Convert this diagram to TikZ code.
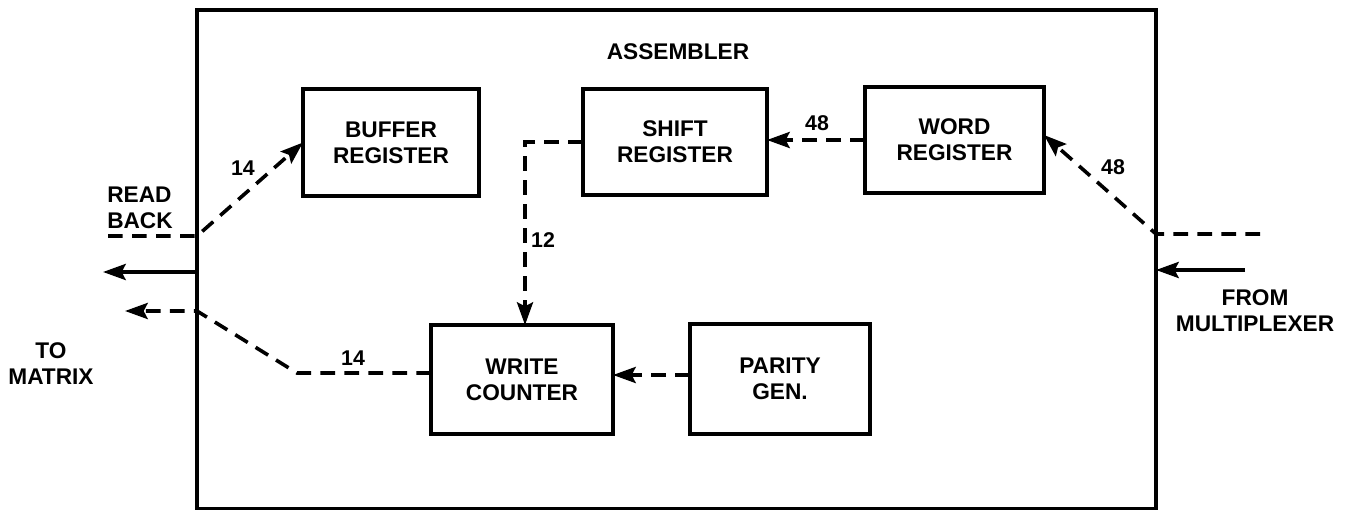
\documentclass[tikz,border=0pt]{standalone}
\usepackage{fontspec}
\setmainfont{Liberation Sans}
\usetikzlibrary{arrows.meta}
\newcommand\lblfont{\fontsize{17}{19.5}\selectfont\bfseries}
\newcommand\numfont{\fontsize{16}{18}\selectfont\bfseries}
\begin{document}
\begin{tikzpicture}[x=0.75pt,y=-0.75pt,
  blk/.style={draw, line width=3pt, inner sep=0pt, outer sep=0pt, align=center, font=\lblfont},
  txt/.style={font=\lblfont, inner sep=0pt},
  num/.style={font=\numfont, inner sep=0pt},
  bus/.style={line width=2.7pt, dash pattern=on 11pt off 7pt},
  wire/.style={line width=2.8pt},
  >={Stealth[length=17pt,width=12pt,inset=3pt]}]
\useasboundingbox (0,0) rectangle (1349,510);
\fill[white] (0,0) rectangle (1349,510);
% container
\node[draw, line width=3.2pt, inner sep=0pt, outer sep=0pt, minimum width=719.25pt, minimum height=374.25pt] (asm) at (676.5,259.5) {};
\node[txt] (title) at (678,52) {ASSEMBLER};
% blocks
\node[blk, minimum width=132pt, minimum height=80.25pt] (buffer) at (391,142.5) {BUFFER\\REGISTER};
\node[blk, minimum width=138pt, minimum height=79.5pt] (shift) at (675,142) {SHIFT\\REGISTER};
\node[blk, minimum width=134.25pt, minimum height=79.5pt] (word) at (954.5,140) {WORD\\REGISTER};
\node[blk, minimum width=136.5pt, minimum height=81.75pt] (write) at (522,379.5) {WRITE\\COUNTER};
\node[blk, minimum width=135pt, minimum height=82.5pt] (parity) at (780,379) {PARITY\\GEN.};
% outside labels
\node[txt, anchor=west, align=left] (rbl) at (107,208) {READ\\BACK};
\node[txt, align=center] (tml) at (51,364) {TO\\MATRIX};
\node[txt, align=center] (fml) at (1255,311) {FROM\\MULTIPLEXER};
% junction coordinates
\coordinate (rbIn) at (108,236);
\coordinate (rbJ) at (197,236);
\coordinate (outJ) at (197,272);
\coordinate (outTip) at (103,272);
\coordinate (wbJ) at (197,311);
\coordinate (wbTip) at (125,311);
\coordinate (wbBend) at (297,373);
\coordinate (rIn) at (1260,234);
\coordinate (rJ) at (1156,234);
\coordinate (mIn) at (1245,270);
\coordinate (mJ) at (1156,270);
% connectors
\draw[bus,->] (rbIn) -- (rbJ) -- (buffer.west);
\draw[wire,->] (outJ) -- (outTip);
\draw[bus,->] ([yshift=4.9pt]write.west) -- (wbBend) -- (wbJ) -- (wbTip);
\draw[bus,->] (rIn) -- (rJ) -- ([yshift=3.75pt]word.east);
\draw[wire,->] (mIn) -- (mJ);
\draw[bus,->] (word.west) -- (word.west -| shift.east);
\draw[bus,->] (shift.west) -| ([xshift=2.25pt]write.north);
\draw[bus,->] ([yshift=3pt]parity.west) -- ([yshift=3pt]parity.west -| write.east);
% bus widths
\node[num] (n14a) at (243,168) {14};
\node[num] (n14b) at (353,358) {14};
\node[num] (n48a) at (817,123) {48};
\node[num] (n48b) at (1113,167) {48};
\node[num] (n12) at (543,240) {12};
\end{tikzpicture}
\end{document}
